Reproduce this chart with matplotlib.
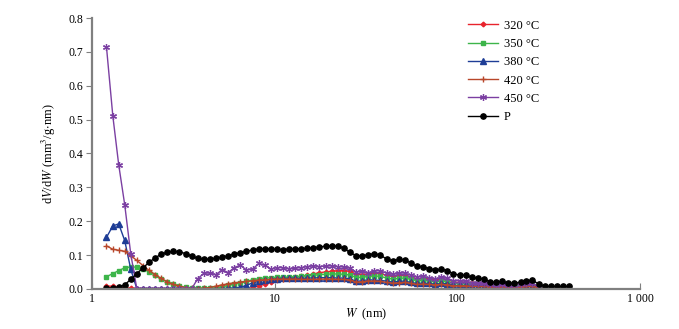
import numpy as np
import matplotlib
matplotlib.use('Agg')
import matplotlib.pyplot as plt

plt.rcParams['font.family'] = ['Liberation Serif', 'DejaVu Serif']
plt.rcParams['mathtext.fontset'] = 'stix'

# pore width W (nm)
W = [1.20, 1.30, 1.40, 1.51, 1.63, 1.76, 1.90, 2.05, 2.22, 2.39,
     2.58, 2.79, 3.01, 3.25, 3.51, 3.79, 4.10, 4.42, 4.78, 5.16,
     5.57, 6.01, 6.49, 7.01, 7.57, 8.18, 8.83, 9.53, 10.29, 11.11,
     12.0, 13.0, 14.0, 15.1, 16.3, 17.6, 19.0, 20.5, 22.2, 23.9,
     25.8, 27.9, 30.1, 32.5, 35.1, 37.9, 41.0, 44.2, 47.8, 51.6,
     55.7, 60.1, 64.9, 70.1, 75.7, 81.8, 88.3, 95.3, 102.9, 111.1,
     120, 130, 140, 151, 163, 176, 190, 205, 222, 239,
     258, 279, 301, 325, 351, 379, 410]

# dV/dW for each sample (colored series stop at 279 nm)
t320 = [0.008, 0.008, 0.004, 0.003, 0.002, 0.001, 0.001, 0.0, 0.0, 0.0,
        0.0, 0.0, 0.0, 0.0, 0.0, 0.0, 0.0, 0.0, 0.0, 0.0,
        0.0, 0.0, 0.0, 0.0, 0.004, 0.009, 0.014, 0.020, 0.026, 0.030,
        0.033, 0.035, 0.037, 0.040, 0.044, 0.048, 0.050, 0.052, 0.054, 0.054,
        0.052, 0.044, 0.042, 0.044, 0.046, 0.045, 0.040, 0.037, 0.039, 0.040,
        0.035, 0.030, 0.031, 0.029, 0.027, 0.029, 0.027, 0.020, 0.019, 0.019,
        0.016, 0.014, 0.014, 0.011, 0.010, 0.012, 0.010, 0.010, 0.012, 0.014,
        0.014, 0.005]
t350 = [0.036, 0.045, 0.054, 0.062, 0.065, 0.064, 0.060, 0.050, 0.040, 0.030,
        0.020, 0.013, 0.008, 0.005, 0.003, 0.002, 0.002, 0.002, 0.003, 0.006,
        0.010, 0.014, 0.018, 0.022, 0.027, 0.030, 0.032, 0.033, 0.034, 0.034,
        0.035, 0.036, 0.037, 0.039, 0.040, 0.042, 0.043, 0.044, 0.044, 0.043,
        0.041, 0.034, 0.034, 0.037, 0.038, 0.037, 0.032, 0.029, 0.031, 0.032,
        0.028, 0.024, 0.025, 0.023, 0.021, 0.023, 0.021, 0.016, 0.015, 0.015,
        0.013, 0.011, 0.011, 0.009, 0.008, 0.010, 0.008, 0.008, 0.010, 0.012,
        0.012, 0.004]
t380 = [0.152, 0.186, 0.192, 0.143, 0.058, 0.0, 0.0, 0.0, 0.0, 0.0,
        0.0, 0.0, 0.0, 0.0, 0.0, 0.0, 0.0, 0.0, 0.0, 0.001,
        0.002, 0.003, 0.005, 0.010, 0.018, 0.022, 0.026, 0.028, 0.030, 0.031,
        0.031, 0.031, 0.031, 0.032, 0.032, 0.033, 0.033, 0.033, 0.032, 0.032,
        0.030, 0.022, 0.024, 0.027, 0.026, 0.025, 0.023, 0.020, 0.022, 0.023,
        0.019, 0.016, 0.017, 0.016, 0.014, 0.016, 0.015, 0.010, 0.010, 0.010,
        0.009, 0.008, 0.008, 0.006, 0.006, 0.008, 0.006, 0.006, 0.007, 0.009,
        0.009, 0.004]
t420 = [0.127, 0.117, 0.114, 0.111, 0.098, 0.084, 0.069, 0.055, 0.042, 0.031,
        0.021, 0.013, 0.008, 0.004, 0.002, 0.001, 0.002, 0.004, 0.008, 0.012,
        0.015, 0.018, 0.020, 0.022, 0.024, 0.026, 0.027, 0.028, 0.029, 0.029,
        0.029, 0.029, 0.028, 0.028, 0.028, 0.029, 0.029, 0.029, 0.028, 0.028,
        0.026, 0.020, 0.021, 0.023, 0.023, 0.022, 0.019, 0.017, 0.018, 0.019,
        0.016, 0.013, 0.014, 0.013, 0.012, 0.013, 0.012, 0.009, 0.009, 0.009,
        0.008, 0.007, 0.007, 0.006, 0.005, 0.006, 0.005, 0.005, 0.006, 0.007,
        0.007, 0.003]
t450 = [0.715, 0.511, 0.367, 0.249, 0.103, 0.0, 0.0, 0.0, 0.0, 0.0,
        0.0, 0.0, 0.0, 0.0, 0.0, 0.030, 0.046, 0.047, 0.042, 0.057,
        0.048, 0.063, 0.070, 0.056, 0.058, 0.075, 0.070, 0.058, 0.063, 0.062,
        0.060, 0.061, 0.063, 0.066, 0.068, 0.066, 0.067, 0.068, 0.066, 0.064,
        0.061, 0.050, 0.052, 0.048, 0.052, 0.054, 0.046, 0.043, 0.046, 0.047,
        0.040, 0.036, 0.037, 0.033, 0.030, 0.034, 0.031, 0.024, 0.024, 0.022,
        0.018, 0.016, 0.017, 0.013, 0.012, 0.013, 0.011, 0.012, 0.015, 0.017,
        0.016, 0.006]
P = [0.003, 0.003, 0.005, 0.012, 0.028, 0.045, 0.062, 0.078, 0.092, 0.102,
     0.108, 0.111, 0.110, 0.104, 0.097, 0.090, 0.087, 0.088, 0.091, 0.094,
     0.098, 0.103, 0.107, 0.111, 0.115, 0.118, 0.119, 0.118, 0.117, 0.116,
     0.118, 0.118, 0.119, 0.120, 0.122, 0.124, 0.126, 0.127, 0.126, 0.120,
     0.108, 0.098, 0.097, 0.101, 0.104, 0.100, 0.088, 0.083, 0.087, 0.086,
     0.076, 0.067, 0.065, 0.060, 0.056, 0.058, 0.054, 0.044, 0.041, 0.040,
     0.034, 0.031, 0.029, 0.021, 0.019, 0.023, 0.017, 0.017, 0.020, 0.024,
     0.026, 0.014, 0.008, 0.007, 0.007, 0.007, 0.007]

labels = ['320 °C', '350 °C', '380 °C', '420 °C', '450 °C', 'P']

fig = plt.figure(figsize=(6.79, 3.29), dpi=100)
ax = fig.add_axes([0.1355, 0.122, 0.807, 0.823])

ax.plot(W[:len(t320)], t320, color='#e8232c', marker='D', markersize=2.4, lw=1, label=labels[0])
ax.plot(W[:len(t350)], t350, color='#3db54a', marker='s', markersize=3.4, lw=1, label=labels[1])
ax.plot(W[:len(t380)], t380, color='#1e3d96', marker='^', markersize=3.8, lw=1, label=labels[2])
ax.plot(W[:len(t420)], t420, color='#b8472a', marker='+', markersize=5, mew=1, lw=1, label=labels[3])
ax.plot(W[:len(t450)], t450, color='#7b3fa2', marker=(6, 2, 0), markersize=5, mew=0.9, lw=1, label=labels[4])
ax.plot(W, P, color='black', marker='o', markersize=3.8, lw=1, label=labels[5])

ax.set_xscale('log')
ax.set_xlim(1, 1000)
ax.set_ylim(0, 0.8)
ax.set_xticks([1, 10, 100, 1000])
ax.set_xticklabels(['1', '10', '100', '1 000'])
ax.xaxis.set_minor_locator(matplotlib.ticker.NullLocator())
ax.set_yticks(np.arange(0, 0.81, 0.1))
ax.set_yticklabels(['%.1f' % v for v in np.arange(0, 0.81, 0.1)])

for s in ['top', 'right']:
    ax.spines[s].set_visible(False)
for s in ['left', 'bottom']:
    ax.spines[s].set_color('#808080')
    ax.spines[s].set_linewidth(1.6)
ax.tick_params(axis='x', direction='in', length=4, color='#808080', labelsize=8.5, pad=3)
ax.tick_params(axis='y', direction='out', length=4, color='#808080', labelsize=8.5, pad=2)

ax.set_xlabel(r'$W$  (nm)', fontsize=9, labelpad=1)
ax.set_ylabel(r'd$V$/d$W$ (mm$^3$/g$\cdot$nm)', fontsize=9, labelpad=8)

ax.legend(loc='upper left', bbox_to_anchor=(0.665, 1.035), frameon=False, fontsize=9,
          handlelength=2.4, labelspacing=0.5, handletextpad=0.5)

fig.savefig('out.png', dpi=100)
